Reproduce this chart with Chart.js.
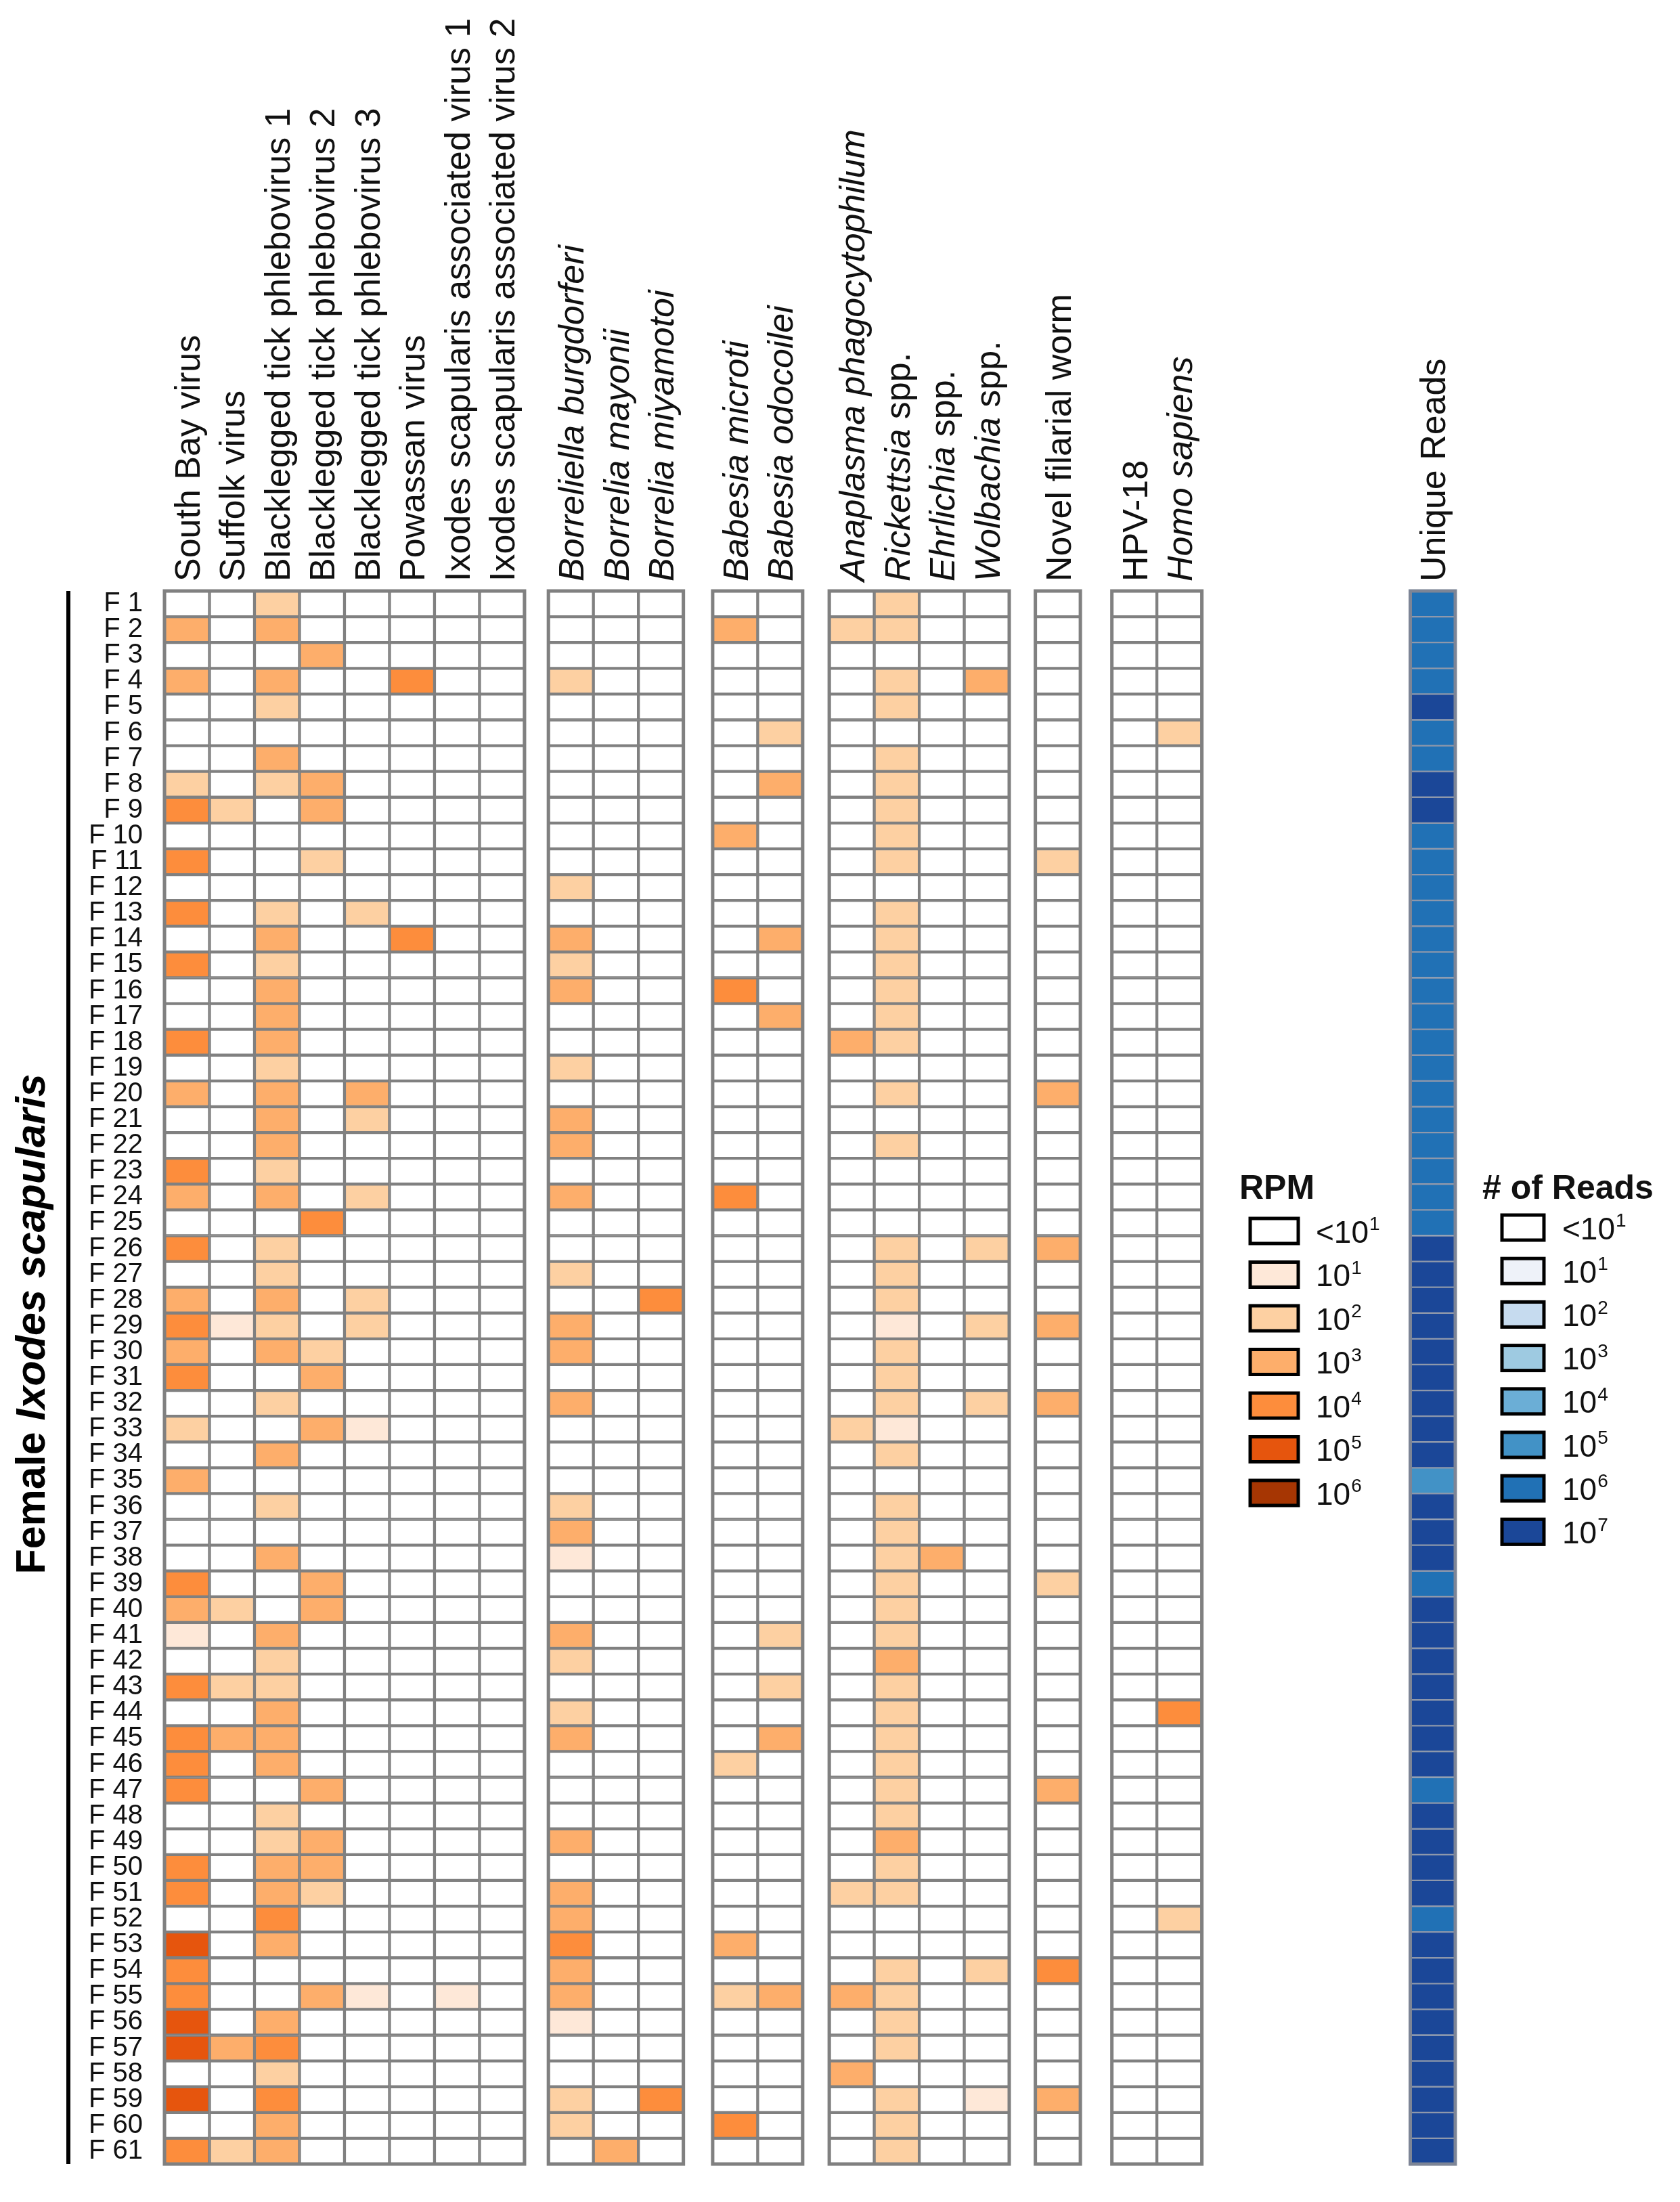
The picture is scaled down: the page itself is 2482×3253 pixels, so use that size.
<!DOCTYPE html>
<html>
<head>
<meta charset="utf-8">
<script src="https://cdn.jsdelivr.net/npm/chart.js@4.4.1/dist/chart.umd.min.js"></script>
<style>
  html, body { margin: 0; padding: 0; background: #ffffff; }
  #wrap { position: relative; width: 2482px; height: 3253px; }
</style>
</head>
<body>
<div id="wrap"><canvas id="chart"></canvas></div>
<script>
// ---------------- DATA ----------------
const rowLabels = ['F 1','F 2','F 3','F 4','F 5','F 6','F 7','F 8','F 9','F 10',
  'F 11','F 12','F 13','F 14','F 15','F 16','F 17','F 18','F 19','F 20',
  'F 21','F 22','F 23','F 24','F 25','F 26','F 27','F 28','F 29','F 30',
  'F 31','F 32','F 33','F 34','F 35','F 36','F 37','F 38','F 39','F 40',
  'F 41','F 42','F 43','F 44','F 45','F 46','F 47','F 48','F 49','F 50',
  'F 51','F 52','F 53','F 54','F 55','F 56','F 57','F 58','F 59','F 60',
  'F 61'];

const categories = [
  'South Bay virus', 'Suffolk virus', 'Blacklegged tick phlebovirus 1', 'Blacklegged tick phlebovirus 2',
  'Blacklegged tick phlebovirus 3', 'Powassan virus', 'Ixodes scapularis associated virus 1',
  'Ixodes scapularis associated virus 2',
  'Borreliella burgdorferi', 'Borrelia mayonii', 'Borrelia miyamotoi',
  'Babesia microti', 'Babesia odocoilei',
  'Anaplasma phagocytophilum', 'Rickettsia spp.', 'Ehrlichia spp.', 'Wolbachia spp.',
  'Novel filarial worm',
  'HPV-18', 'Homo sapiens'
];
const readsCategory = 'Unique Reads';

// log10 RPM level per tick (0 = <10^1, 1 = 10^1, ... 6 = 10^6)
const southBayVirus = [0,3,0,3,0,0,0,2,4,0, 4,0,4,0,4,0,0,4,0,3, 0,0,4,3,0,4,0,3,4,3, 4,0,2,0,3,0,0,0,4,3, 1,0,4,0,4,4,4,0,0,4, 4,0,5,4,4,5,5,0,5,0, 4];
const suffolkVirus  = [0,0,0,0,0,0,0,0,2,0, 0,0,0,0,0,0,0,0,0,0, 0,0,0,0,0,0,0,0,1,0, 0,0,0,0,0,0,0,0,0,2, 0,0,2,0,3,0,0,0,0,0, 0,0,0,0,0,0,3,0,0,0, 2];
const btPhlebo1     = [2,3,0,3,2,0,3,2,0,0, 0,0,2,3,2,3,3,3,2,3, 3,3,2,3,0,2,2,3,2,3, 0,2,0,3,0,2,0,3,0,0, 3,2,2,3,3,3,0,2,2,3, 3,4,3,0,0,3,4,2,4,3, 3];
const btPhlebo2     = [0,0,3,0,0,0,0,3,3,0, 2,0,0,0,0,0,0,0,0,0, 0,0,0,0,4,0,0,0,0,2, 3,0,3,0,0,0,0,0,3,3, 0,0,0,0,0,0,3,0,3,3, 2,0,0,0,3,0,0,0,0,0, 0];
const btPhlebo3     = [0,0,0,0,0,0,0,0,0,0, 0,0,2,0,0,0,0,0,0,3, 2,0,0,2,0,0,0,2,2,0, 0,0,1,0,0,0,0,0,0,0, 0,0,0,0,0,0,0,0,0,0, 0,0,0,0,1,0,0,0,0,0, 0];
const powassanVirus = [0,0,0,4,0,0,0,0,0,0, 0,0,0,4,0,0,0,0,0,0, 0,0,0,0,0,0,0,0,0,0, 0,0,0,0,0,0,0,0,0,0, 0,0,0,0,0,0,0,0,0,0, 0,0,0,0,0,0,0,0,0,0, 0];
const isaVirus1     = [0,0,0,0,0,0,0,0,0,0, 0,0,0,0,0,0,0,0,0,0, 0,0,0,0,0,0,0,0,0,0, 0,0,0,0,0,0,0,0,0,0, 0,0,0,0,0,0,0,0,0,0, 0,0,0,0,1,0,0,0,0,0, 0];
const isaVirus2     = [0,0,0,0,0,0,0,0,0,0, 0,0,0,0,0,0,0,0,0,0, 0,0,0,0,0,0,0,0,0,0, 0,0,0,0,0,0,0,0,0,0, 0,0,0,0,0,0,0,0,0,0, 0,0,0,0,0,0,0,0,0,0, 0];
const bBurgdorferi  = [0,0,0,2,0,0,0,0,0,0, 0,2,0,3,2,3,0,0,2,0, 3,3,0,3,0,0,2,0,3,3, 0,3,0,0,0,2,3,1,0,0, 3,2,0,2,3,0,0,0,3,0, 3,3,4,3,3,1,0,0,2,2, 0];
const bMayonii      = [0,0,0,0,0,0,0,0,0,0, 0,0,0,0,0,0,0,0,0,0, 0,0,0,0,0,0,0,0,0,0, 0,0,0,0,0,0,0,0,0,0, 0,0,0,0,0,0,0,0,0,0, 0,0,0,0,0,0,0,0,0,0, 3];
const bMiyamotoi    = [0,0,0,0,0,0,0,0,0,0, 0,0,0,0,0,0,0,0,0,0, 0,0,0,0,0,0,0,4,0,0, 0,0,0,0,0,0,0,0,0,0, 0,0,0,0,0,0,0,0,0,0, 0,0,0,0,0,0,0,0,4,0, 0];
const babMicroti    = [0,3,0,0,0,0,0,0,0,3, 0,0,0,0,0,4,0,0,0,0, 0,0,0,4,0,0,0,0,0,0, 0,0,0,0,0,0,0,0,0,0, 0,0,0,0,0,2,0,0,0,0, 0,0,3,0,2,0,0,0,0,4, 0];
const babOdocoilei  = [0,0,0,0,0,2,0,3,0,0, 0,0,0,3,0,0,3,0,0,0, 0,0,0,0,0,0,0,0,0,0, 0,0,0,0,0,0,0,0,0,0, 2,0,2,0,3,0,0,0,0,0, 0,0,0,0,3,0,0,0,0,0, 0];
const anaplasma     = [0,2,0,0,0,0,0,0,0,0, 0,0,0,0,0,0,0,3,0,0, 0,0,0,0,0,0,0,0,0,0, 0,0,2,0,0,0,0,0,0,0, 0,0,0,0,0,0,0,0,0,0, 2,0,0,0,3,0,0,3,0,0, 0];
const rickettsia    = [2,2,0,2,2,0,2,2,2,2, 2,0,2,2,2,2,2,2,0,2, 0,2,0,0,0,2,2,2,1,2, 2,2,1,2,0,2,2,2,2,2, 2,3,2,2,2,2,2,2,3,2, 2,0,0,2,2,2,2,0,2,2, 2];
const ehrlichia     = [0,0,0,0,0,0,0,0,0,0, 0,0,0,0,0,0,0,0,0,0, 0,0,0,0,0,0,0,0,0,0, 0,0,0,0,0,0,0,3,0,0, 0,0,0,0,0,0,0,0,0,0, 0,0,0,0,0,0,0,0,0,0, 0];
const wolbachia     = [0,0,0,3,0,0,0,0,0,0, 0,0,0,0,0,0,0,0,0,0, 0,0,0,0,0,2,0,0,2,0, 0,2,0,0,0,0,0,0,0,0, 0,0,0,0,0,0,0,0,0,0, 0,0,0,2,0,0,0,0,1,0, 0];
const filarialWorm  = [0,0,0,0,0,0,0,0,0,0, 2,0,0,0,0,0,0,0,0,3, 0,0,0,0,0,3,0,0,3,0, 0,3,0,0,0,0,0,0,2,0, 0,0,0,0,0,0,3,0,0,0, 0,0,0,4,0,0,0,0,3,0, 0];
const hpv18         = [0,0,0,0,0,0,0,0,0,0, 0,0,0,0,0,0,0,0,0,0, 0,0,0,0,0,0,0,0,0,0, 0,0,0,0,0,0,0,0,0,0, 0,0,0,0,0,0,0,0,0,0, 0,0,0,0,0,0,0,0,0,0, 0];
const homoSapiens   = [0,0,0,0,0,2,0,0,0,0, 0,0,0,0,0,0,0,0,0,0, 0,0,0,0,0,0,0,0,0,0, 0,0,0,0,0,0,0,0,0,0, 0,0,0,4,0,0,0,0,0,0, 0,2,0,0,0,0,0,0,0,0, 0];
// log10 number of unique reads (0 = <10^1 ... 7 = 10^7)
const uniqueReads   = [6,6,6,6,7,6,6,7,7,6, 6,6,6,6,6,6,6,6,6,6, 6,6,6,6,6,7,7,7,7,7, 7,7,7,7,5,7,7,7,6,7, 7,7,7,7,7,7,6,7,7,7, 7,6,7,7,7,7,7,7,7,7, 7];

const rpmLegendLabels   = ['<10^1','10^1','10^2','10^3','10^4','10^5','10^6'];
const readsLegendLabels = ['<10^1','10^1','10^2','10^3','10^4','10^5','10^6','10^7'];

const series = [southBayVirus, suffolkVirus, btPhlebo1, btPhlebo2, btPhlebo3, powassanVirus, isaVirus1, isaVirus2,
  bBurgdorferi, bMayonii, bMiyamotoi, babMicroti, babOdocoilei, anaplasma, rickettsia, ehrlichia, wolbachia,
  filarialWorm, hpv18, homoSapiens];

// ---------------- STYLE / LAYOUT ----------------
const FONT = '"Liberation Sans", Arial, Helvetica, sans-serif';
const RPM_COLORS   = ['#ffffff','#fee8d8','#fdd0a2','#fdae6b','#fd8d3c','#e6550d','#a63603'];
const READS_COLORS = ['#ffffff','#eef2f9','#c6dbef','#9ecae1','#6baed6','#4292c6','#2171b5','#1b4798'];
const LABEL_STYLE = ['n','n','n','n','n','n','n','n', 'i','i','i', 'i','i', 'i','g','g','g', 'n', 'n','i'];
const GROUP_SIZES = [8,3,2,4,1,2];
const GROUP_GAPS  = [0.53,0.65,0.59,0.58,0.70];
const READS_GAP   = 4.63;
const HEADER_FONT = 52;
const HEADER_BASE_Y = 859;

const xPos = [];
const groups = [];
let readsPos = 0;
{
  let p = 0;
  GROUP_SIZES.forEach((n, g) => {
    const start = p;
    for (let k = 0; k < n; k++) { xPos.push(p); p += 1; }
    groups.push([start, p - 1]);
    if (g < GROUP_GAPS.length) p += GROUP_GAPS[g];
  });
  readsPos = p + READS_GAP;
}

const cellData = [];
series.forEach((arr, ci) => arr.forEach((v, r) => cellData.push({ x: xPos[ci], y: [r, r + 1], v })));
const readsData = uniqueReads.map((v, r) => ({ x: readsPos, y: [r, r + 1], v }));

// ---------------- PLUGINS ----------------
function segmentsFor(label, style) {
  if (style === 'i') return [{ t: label, it: true }];
  if (style === 'g') {
    const k = label.indexOf(' ');
    return [{ t: label.slice(0, k), it: true }, { t: label.slice(k), it: false }];
  }
  return [{ t: label, it: false }];
}

const outlinePlugin = {
  id: 'outlines',
  afterDatasetsDraw(chart) {
    const { ctx } = chart, xs = chart.scales.x, ys = chart.scales.y;
    const top = ys.getPixelForValue(0), bottom = ys.getPixelForValue(rowLabels.length);
    ctx.save();
    ctx.lineWidth = 5;
    ctx.strokeStyle = '#808080';
    groups.forEach(([a, b]) => {
      const l = xs.getPixelForValue(a - 0.5), r = xs.getPixelForValue(b + 0.5);
      ctx.strokeRect(l, top, r - l, bottom - top);
    });
    ctx.strokeStyle = '#7d8596';
    const l = xs.getPixelForValue(readsPos - 0.5), r = xs.getPixelForValue(readsPos + 0.5);
    ctx.strokeRect(l, top, r - l, bottom - top);
    ctx.restore();
  }
};

const headerPlugin = {
  id: 'headers',
  afterDraw(chart) {
    const { ctx } = chart, xs = chart.scales.x;
    const labels = categories.concat([readsCategory]);
    const pos = xPos.concat([readsPos]);
    const styles = LABEL_STYLE.concat(['n']);
    ctx.save();
    ctx.fillStyle = '#111111';
    ctx.textAlign = 'left';
    ctx.textBaseline = 'alphabetic';
    labels.forEach((lab, i) => {
      const cx = xs.getPixelForValue(pos[i]);
      ctx.save();
      ctx.translate(cx + HEADER_FONT * 0.36, HEADER_BASE_Y);
      ctx.rotate(-Math.PI / 2);
      let x = 0;
      segmentsFor(lab, styles[i]).forEach(s => {
        ctx.font = (s.it ? 'italic ' : '') + HEADER_FONT + 'px ' + FONT;
        ctx.fillText(s.t, x, 0);
        x += ctx.measureText(s.t).width;
      });
      ctx.restore();
    });
    ctx.restore();
  }
};

const titlePlugin = {
  id: 'sideTitle',
  afterDraw(chart) {
    const { ctx } = chart, ys = chart.scales.y;
    const top = ys.getPixelForValue(0), bottom = ys.getPixelForValue(rowLabels.length);
    ctx.save();
    ctx.fillStyle = '#000000';
    ctx.fillRect(98, top, 6, bottom - top);
    const size = 61;
    const parts = [{ t: 'Female ', it: false }, { t: 'Ixodes scapularis', it: true }];
    let total = 0;
    parts.forEach(p => { ctx.font = (p.it ? 'italic ' : '') + 'bold ' + size + 'px ' + FONT; p.w = ctx.measureText(p.t).width; total += p.w; });
    ctx.translate(66, 1956);
    ctx.rotate(-Math.PI / 2);
    ctx.textBaseline = 'alphabetic';
    ctx.textAlign = 'left';
    let x = -total / 2;
    parts.forEach(p => { ctx.font = (p.it ? 'italic ' : '') + 'bold ' + size + 'px ' + FONT; ctx.fillText(p.t, x, 0); x += p.w; });
    ctx.restore();
  }
};

function drawPowerLabel(ctx, text, x, yBase, size) {
  const [base, exp] = text.split('^');
  ctx.font = size + 'px ' + FONT;
  ctx.fillText(base, x, yBase);
  const w = ctx.measureText(base).width;
  ctx.font = Math.round(size * 0.6) + 'px ' + FONT;
  ctx.fillText(exp, x + w + 1, yBase - size * 0.4);
}

const legendPlugin = {
  id: 'scaleLegends',
  afterDraw(chart) {
    const { ctx } = chart;
    ctx.save();
    ctx.fillStyle = '#111111';
    ctx.textAlign = 'left';
    ctx.textBaseline = 'alphabetic';
    ctx.font = 'bold 50px ' + FONT;
    ctx.fillText('RPM', 1831, 1771);
    ctx.fillText('# of Reads', 2190, 1771);
    const drawSet = (labels, colors, bx, by, bw, bh, pitch, tx) => {
      labels.forEach((lab, i) => {
        const y = by + i * pitch;
        ctx.fillStyle = colors[i];
        ctx.fillRect(bx, y, bw, bh);
        ctx.lineWidth = 5;
        ctx.strokeStyle = '#000000';
        ctx.strokeRect(bx, y, bw, bh);
        ctx.fillStyle = '#111111';
        drawPowerLabel(ctx, lab, tx, y + bh / 2 + 17, 46);
      });
    };
    drawSet(rpmLegendLabels, RPM_COLORS, 1847, 1800, 71, 37, 64.5, 1944);
    drawSet(readsLegendLabels, READS_COLORS, 2219, 1795, 62, 37, 64.2, 2308);
    ctx.restore();
  }
};

// ---------------- CHART ----------------
Chart.defaults.font.family = FONT;
new Chart(document.getElementById('chart'), {
  type: 'bar',
  data: {
    datasets: [
      {
        label: 'RPM',
        data: cellData,
        backgroundColor: c => (c.raw ? RPM_COLORS[c.raw.v] : '#ffffff'),
        borderColor: '#808080',
        borderWidth: 2.5,
        borderSkipped: false,
        grouped: false,
        barPercentage: 1,
        categoryPercentage: 1
      },
      {
        label: 'Unique Reads',
        data: readsData,
        backgroundColor: c => (c.raw ? READS_COLORS[c.raw.v] : '#ffffff'),
        borderColor: '#8e98ab',
        borderWidth: 1.5,
        borderSkipped: false,
        grouped: false,
        barPercentage: 1,
        categoryPercentage: 1
      }
    ]
  },
  options: {
    responsive: true,
    maintainAspectRatio: false,
    animation: false,
    events: [],
    layout: { padding: { left: 0, right: 332, top: 873, bottom: 38 } },
    plugins: { legend: { display: false }, tooltip: { enabled: false } },
    scales: {
      x: {
        type: 'linear',
        min: -0.5,
        max: readsPos + 0.5,
        offset: false,
        grid: { offset: false, display: false },
        display: false,
        afterBuildTicks: s => { s.ticks = [{ value: 0 }, { value: 10 }, { value: 20 }]; }
      },
      y: {
        type: 'linear',
        min: 0,
        max: rowLabels.length,
        reverse: true,
        offset: false,
        grid: { display: false, drawTicks: false },
        border: { display: false },
        afterBuildTicks: s => { s.ticks = rowLabels.map((_, i) => ({ value: i + 0.5 })); },
        afterFit: s => { s.width = 243; },
        ticks: {
          autoSkip: false,
          padding: 32,
          color: '#111111',
          font: { size: 40, family: FONT },
          callback: v => rowLabels[Math.floor(v)]
        }
      }
    }
  },
  plugins: [outlinePlugin, headerPlugin, titlePlugin, legendPlugin]
});
</script>
</body>
</html>
